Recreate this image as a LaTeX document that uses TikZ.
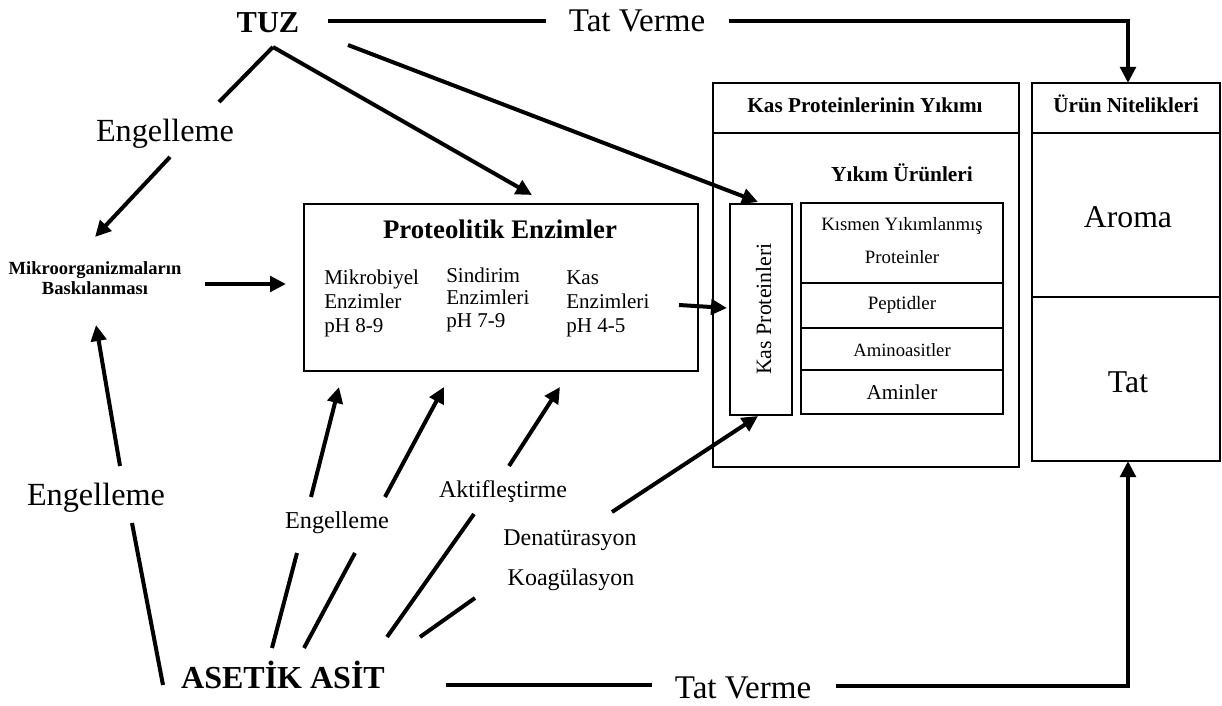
\documentclass[tikz,border=0pt]{standalone}
\usepackage{fontspec}
\setmainfont{Liberation Serif}
\usetikzlibrary{arrows.meta}
\newcommand\fsz[1]{\fontsize{#1}{#1}\selectfont}
\begin{document}
\begin{tikzpicture}[x=0.75pt,y=-0.75pt,
  box/.style={draw, line width=1.5pt},
  conn/.style={line width=3pt},
  arr/.style={conn, -{Triangle[length=12pt,width=11.5pt]}},
  txt/.style={inner sep=0pt, anchor=base}]
\useasboundingbox (0,0) rectangle (1222,706);

% ---------- boxes ----------
\node[box, minimum width=394*0.75pt, minimum height=167*0.75pt, anchor=north west, inner sep=0pt] (prot) at (303,203) {};
\draw[box] (713,83) rectangle (1019,467);
\coordinate (kyTL) at (713,83);
\draw[box] (713,133) -- (1019,133);
\draw[box] (1032,83) rectangle (1220,461);
\draw[box] (1032,133) -- (1220,133);
\draw[box] (1032,297) -- (1220,297);
\node[box, minimum width=62*0.75pt, minimum height=211*0.75pt, anchor=north west, inner sep=0pt] (kasp) at (729,203) {};
\draw[box] (801,203) rectangle (1003,414);
\draw[box] (801,283) -- (1003,283);
\draw[box] (801,328) -- (1003,328);
\draw[box] (801,370) -- (1003,370);

% ---------- texts ----------
\node[txt] (tuz) at (268,33) {\fsz{22.8}\bfseries TUZ};
\node[txt] (tat1) at (637,32) {\fsz{24.8}Tat Verme};
\node[txt] (eng1) at (165,142) {\fsz{24.2}Engelleme};
\node[txt] (mik1) at (95,275) {\fsz{13.9}\bfseries Mikroorganizmaların};
\node[txt] (mik2) at (95,295) {\fsz{13.9}\bfseries Baskılanması};
\node[txt] (protT) at (500,239) {\fsz{20.1}\bfseries Proteolitik Enzimler};
\node[txt, anchor=base west] (m1) at (324,285) {\fsz{15.8}Mikrobiyel};
\node[txt, anchor=base west] (m2) at (324,309) {\fsz{15.8}Enzimler};
\node[txt, anchor=base west] (m3) at (324,332) {\fsz{15.8}pH 8-9};
\node[txt, anchor=base west] (s1) at (446,282) {\fsz{15.8}Sindirim};
\node[txt, anchor=base west] (s2) at (446,305) {\fsz{15.8}Enzimleri};
\node[txt, anchor=base west] (s3) at (446,328) {\fsz{15.8}pH 7-9};
\node[txt, anchor=base west] (k1) at (566,285) {\fsz{15.8}Kas};
\node[txt, anchor=base west] (k2) at (566,309) {\fsz{15.8}Enzimleri};
\node[txt, anchor=base west] (k3) at (566,332) {\fsz{15.8}pH 4-5};
\node[txt] (kyT) at (865,113) {\fsz{15.9}\bfseries Kas Proteinlerinin Yıkımı};
\node[txt] (unT) at (1126,113) {\fsz{15.9}\bfseries Ürün Nitelikleri};
\node[txt] (yu) at (902,182) {\fsz{16}\bfseries Yıkım Ürünleri};
\node[txt] (aroma) at (1128,228) {\fsz{23.8}Aroma};
\node[txt] (tat) at (1128,392) {\fsz{23.8}Tat};
\node[txt] (p1) at (902,231) {\fsz{14.1}Kısmen Yıkımlanmış};
\node[txt] (p2) at (902,263) {\fsz{14.1}Proteinler};
\node[txt] (pep) at (902,310) {\fsz{14.2}Peptidler};
\node[txt] (ami) at (902,356) {\fsz{14}Aminoasitler};
\node[txt] (amin) at (902,399) {\fsz{15.9}Aminler};
\node[txt, rotate=90] (kpT) at (771,309) {\fsz{16.4}Kas Proteinleri};
\node[txt] (eng2) at (96,505) {\fsz{24.2}Engelleme};
\node[txt] (eng3) at (337,528) {\fsz{18.2}Engelleme};
\node[txt] (akt) at (503,497) {\fsz{18}Aktifleştirme};
\node[txt] (den) at (570,545) {\fsz{18}Denatürasyon};
\node[txt] (koa) at (571,585) {\fsz{18}Koagülasyon};
\node[txt] (aa) at (283,688) {\fsz{24}\bfseries ASETİK ASİT};
\node[txt] (tat2) at (743,698) {\fsz{24.8}Tat Verme};

% ---------- connector end points ----------
\coordinate (c1) at (328,21);  \coordinate (c2) at (546,21);
\coordinate (c3) at (729,21);  \coordinate (c4) at (1128,21); \coordinate (c5) at (1128,83);
\coordinate (tuzA) at (273,47); \coordinate (e1a) at (219,102);
\coordinate (e1b) at (170,157); \coordinate (mikT) at (95,237);
\coordinate (protTip) at (532,195);
\coordinate (tuzB) at (348,45); \coordinate (kaspT) at (758,202);
\coordinate (mikR) at (205,284); \coordinate (protL) at (286,284);
\coordinate (kasE) at (679,305); \coordinate (kaspL) at (727,308);
\coordinate (e2a) at (120,466); \coordinate (mikB) at (96,325);
\coordinate (e2b) at (132,523); \coordinate (aaL) at (163,685);
\coordinate (a1) at (272,648); \coordinate (a1b) at (297,553); \coordinate (a1c) at (311,497); \coordinate (t1) at (339,387);
\coordinate (a2) at (304,648); \coordinate (a2b) at (355,553); \coordinate (a2c) at (385,497); \coordinate (t2) at (444,387);
\coordinate (a3) at (387,637); \coordinate (a3b) at (474,514); \coordinate (a3c) at (509,466); \coordinate (t3) at (560,387);
\coordinate (a4) at (420,637); \coordinate (a4b) at (475,598); \coordinate (a4c) at (612,512); \coordinate (kaspB) at (758,416);
\coordinate (b1) at (446,685); \coordinate (b2) at (652,685);
\coordinate (b3) at (836,686); \coordinate (b4) at (1128,686); \coordinate (b5) at (1128,461);

% ---------- connectors ----------
\draw[conn] (c1) -- (c2);
\draw[arr] (c3) -- (c4) -- (c5);
\draw[conn] (tuzA) -- (e1a);
\draw[arr] (e1b) -- (mikT);
\draw[arr] (tuzA) -- (protTip);
\draw[arr] (tuzB) -- (kaspT);
\draw[arr] (mikR) -- (protL);
\draw[arr] (kasE) -- (kaspL);
\draw[arr] (e2a) -- (mikB);
\draw[conn] (e2b) -- (aaL);
\draw[conn] (a1) -- (a1b); \draw[arr] (a1c) -- (t1);
\draw[conn] (a2) -- (a2b); \draw[arr] (a2c) -- (t2);
\draw[conn] (a3) -- (a3b); \draw[arr] (a3c) -- (t3);
\draw[conn] (a4) -- (a4b); \draw[arr] (a4c) -- (kaspB);
\draw[conn] (b1) -- (b2);
\draw[arr] (b3) -- (b4) -- (b5);
\end{tikzpicture}
\end{document}
